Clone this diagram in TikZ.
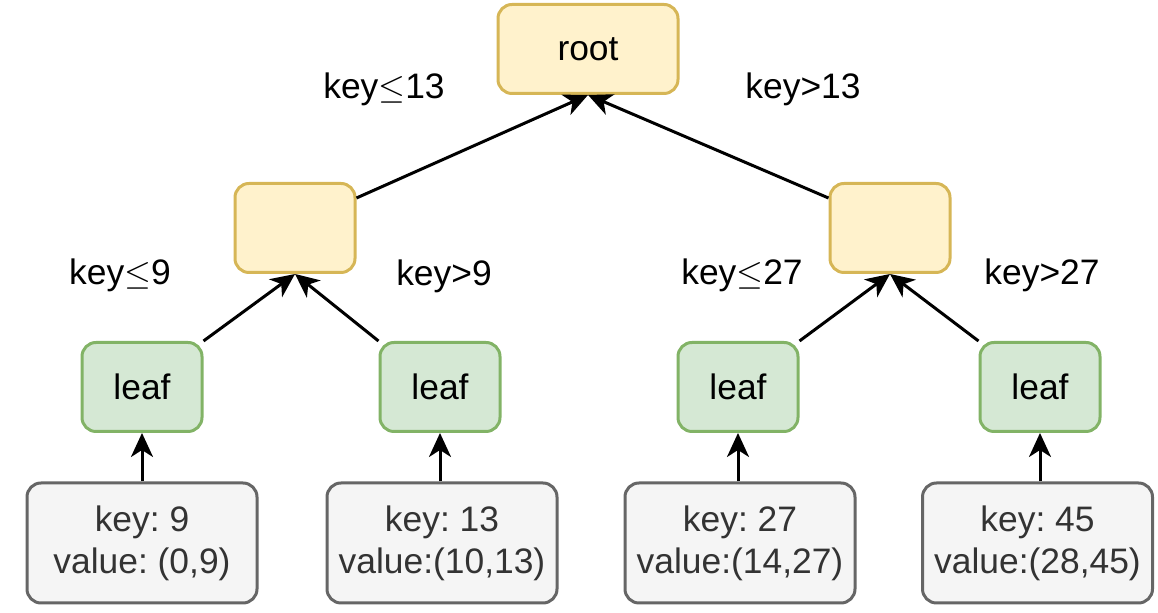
\documentclass[tikz,border=0pt]{standalone}
\usepackage{fontspec}
\setmainfont{Liberation Sans}
\usetikzlibrary{arrows.meta}
\definecolor{yfill}{HTML}{FFF2CC}
\definecolor{ydraw}{HTML}{D6B656}
\definecolor{gfill}{HTML}{D5E8D4}
\definecolor{gdraw}{HTML}{82B366}
\definecolor{sfill}{HTML}{F5F5F5}
\definecolor{sdraw}{HTML}{666666}
\definecolor{stext}{HTML}{333333}
\frenchspacing
\begin{document}
\begin{tikzpicture}[x=0.5pt,y=-0.5pt,
  box/.style={rounded corners=7pt, line width=1.5pt, inner sep=0pt, align=center,
    font=\fontsize{17.7}{21}\selectfont},
  ynode/.style={box, fill=yfill, draw=ydraw, minimum height=44.5pt},
  gnode/.style={box, fill=gfill, draw=gdraw, minimum width=60pt, minimum height=44.5pt},
  snode/.style={box, fill=sfill, draw=sdraw, text=stext, minimum width=115pt, minimum height=60pt},
  lbl/.style={font=\fontsize{17.7}{21}\selectfont, inner sep=0pt},
  arr/.style={-{Stealth[length=12pt,width=11pt,inset=3.5pt]}, line width=1.5pt}
]
\useasboundingbox (0,0) rectangle (1158,613);

\node[ynode, minimum width=90pt] (root) at (588,49) {root};
\node[ynode, minimum width=60pt] (midL) at (295,228) {};
\node[ynode, minimum width=60pt] (midR) at (890,228) {};

\node[gnode] (leafA) at (142,387) {leaf};
\node[gnode] (leafB) at (440,387) {leaf};
\node[gnode] (leafC) at (738,387) {leaf};
\node[gnode] (leafD) at (1040,387) {leaf};

\node[snode] (bA) at (142,543) {key: 9\\value: (0,9)};
\node[snode] (bB) at (442,543) {key: 13\\value:(10,13)};
\node[snode] (bC) at (740,543) {key: 27\\value:(14,27)};
\node[snode] (bD) at (1037.5,543) {key: 45\\value:(28,45)};

\node[lbl] (l13) at (384,89) {key$\leq$13};
\node[lbl] (g13) at (803,89) {key>13};
\node[lbl] (l9) at (120,275) {key$\leq$9};
\node[lbl] (g9) at (444,276) {key>9};
\node[lbl] (l27) at (742,275) {key$\leq$27};
\node[lbl] (g27) at (1042,275) {key>27};

\draw[arr] ([yshift=-8pt]midL.north east) -- (root.south);
\draw[arr] ([yshift=-8pt]midR.north west) -- (root.south);
\draw[arr] (leafA.north east) -- (midL.south);
\draw[arr] (leafB.north west) -- (midL.south);
\draw[arr] (leafC.north east) -- (midR.south);
\draw[arr] (leafD.north west) -- (midR.south);
\draw[arr] (leafA |- bA.north) -- (leafA.south);
\draw[arr] (leafB |- bB.north) -- (leafB.south);
\draw[arr] (leafC |- bC.north) -- (leafC.south);
\draw[arr] (leafD |- bD.north) -- (leafD.south);
\end{tikzpicture}
\end{document}
